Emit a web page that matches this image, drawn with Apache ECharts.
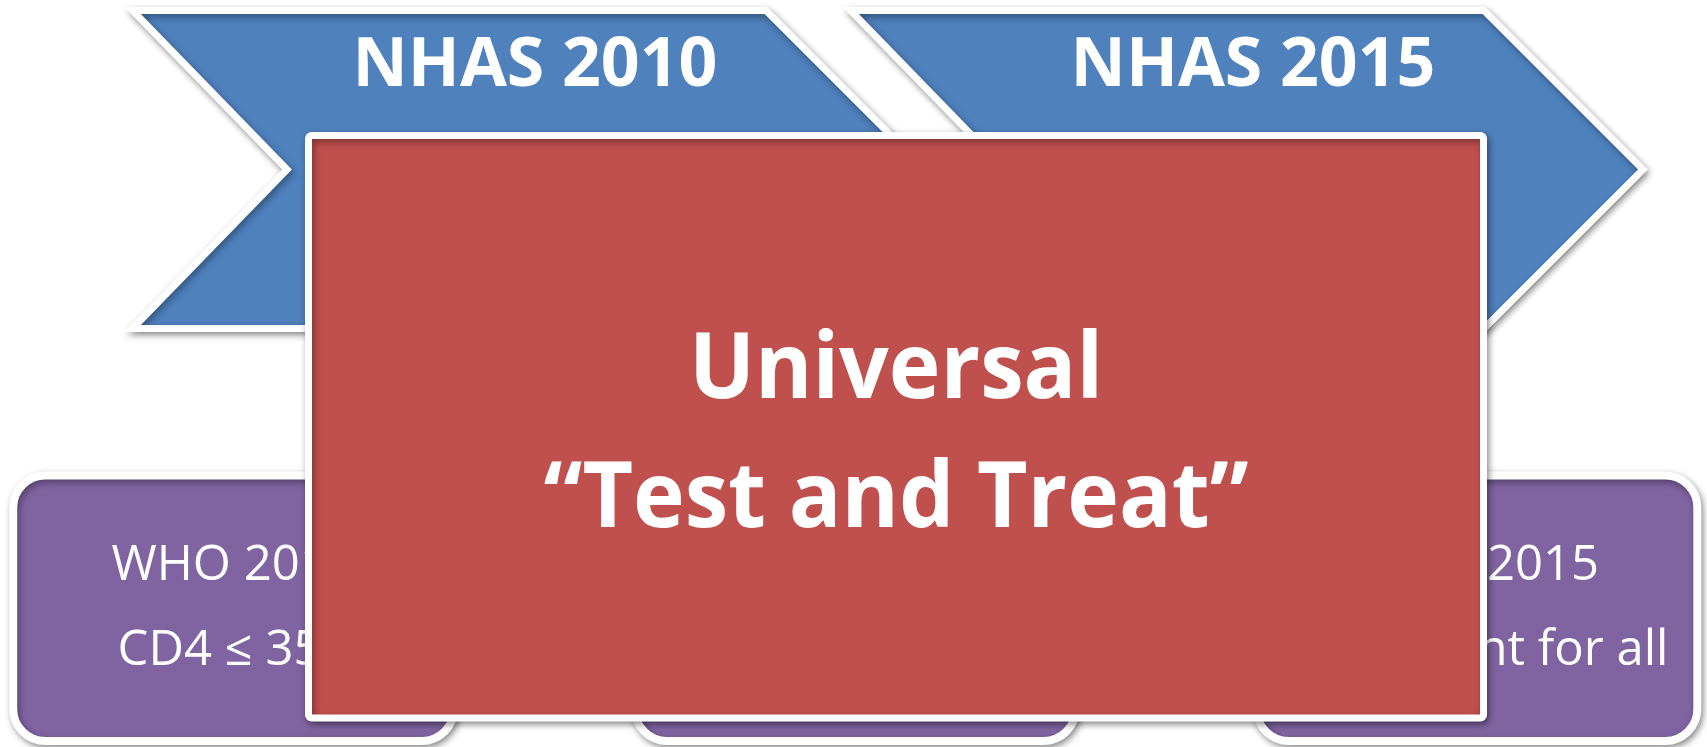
<!DOCTYPE html>
<html><head><meta charset="utf-8">
<script src="https://cdn.jsdelivr.net/npm/echarts@6/dist/echarts.min.js"></script>
<style>html,body{margin:0;padding:0;background:#fff}#main{width:1707px;height:747px}</style>
</head><body><div id="main"></div>
<script>
// Diagram content
const chevronLabels = ['NHAS 2010', 'NHAS 2015'];
const boxTitles = ['WHO 2010', 'WHO 2013', 'WHO 2015'];
const boxCriteria = ['CD4 ≤ 350', 'CD4 ≤ 500', 'Treatment for all'];
const overlayLines = ['Universal', '“Test and Treat”'];

const FONT = '"Open Sans", "Noto Sans", sans-serif';
const SHADOW = { shadowBlur: 7, shadowOffsetX: 2, shadowOffsetY: 3, shadowColor: 'rgba(0,0,0,0.38)' };

const chart = echarts.init(document.getElementById('main'), null, { renderer: 'canvas' });

function chevronItem(params, api) {
  const idx = params.dataIndex;
  const cx = api.coord([api.value(0), 0])[0];
  const top = 10.5, bot = 328.5, mid = 169.5;
  const pts = [[cx - 395.5, top], [cx + 238, top], [cx + 397, mid], [cx + 238, bot], [cx - 395.5, bot], [cx - 241, mid]];
  return {
    type: 'group',
    children: [
      { type: 'polygon', shape: { points: pts },
        style: Object.assign({ fill: '#4F81BD', stroke: '#ffffff', lineWidth: 7, lineJoin: 'miter' }, SHADOW) },
      { type: 'text', z2: 5,
        style: { text: chevronLabels[idx], x: cx + 7, y: 67, align: 'center', verticalAlign: 'middle',
                 fill: '#ffffff', font: 'bold 68px ' + FONT } }
    ]
  };
}

function boxItem(params, api) {
  const idx = params.dataIndex;
  const cx = api.coord([api.value(0), 0])[0];
  const w = 440.7, h = 265.5, top = 475.5;
  return {
    type: 'group',
    children: [
      { type: 'rect', shape: { x: cx - w / 2, y: top, width: w, height: h, r: 32 },
        style: Object.assign({ fill: '#8064A2', stroke: '#ffffff', lineWidth: 8 }, SHADOW) },
      { type: 'text', z2: 5,
        style: { text: boxTitles[idx], x: cx, y: 566, align: 'center', verticalAlign: 'middle',
                 fill: '#ffffff', font: '49px ' + FONT } },
      { type: 'text', z2: 5,
        style: { text: boxCriteria[idx], x: cx, y: 651, align: 'center', verticalAlign: 'middle',
                 fill: '#ffffff', font: '49px ' + FONT } }
    ]
  };
}

function overlayItem(params, api) {
  const cx = api.coord([api.value(0), 0])[0];
  const w = 1175, h = 582.5, top = 135.5;
  const line = (txt, y) => ({
    type: 'text', z2: 5, x: cx, y: y, scaleX: 0.95,
    style: { text: txt, x: 0, y: 0, align: 'center', verticalAlign: 'middle',
             fill: '#ffffff', font: 'bold 92px ' + FONT }
  });
  return {
    type: 'group',
    children: [
      { type: 'rect', shape: { x: cx - w / 2, y: top, width: w, height: h, r: 3 },
        style: Object.assign({ fill: '#C0504D', stroke: '#ffffff', lineWidth: 7 }, SHADOW) },
      line(overlayLines[0], 372),
      line(overlayLines[1], 501)
    ]
  };
}

const hiddenAxis = { type: 'value', show: false, splitLine: { show: false } };

chart.setOption({
  backgroundColor: '#ffffff',
  animation: false,
  grid: { left: 0, right: 0, top: 0, bottom: 0 },
  xAxis: [
    Object.assign({}, hiddenAxis, { min: -0.3757, max: 2.3700 }),   // boxes
    Object.assign({}, hiddenAxis, { min: -0.7354, max: 1.6420 }),   // chevrons
    Object.assign({}, hiddenAxis, { min: -0.5249, max: 0.4751 })    // overlay
  ],
  yAxis: Object.assign({}, hiddenAxis, { min: 0, max: 1 }),
  series: [
    { type: 'custom', xAxisIndex: 1, z: 1, renderItem: chevronItem,
      data: chevronLabels.map((t, i) => [i, 0.5]) },
    { type: 'custom', xAxisIndex: 0, z: 2, renderItem: boxItem,
      data: boxTitles.map((t, i) => [i, 0.5]) },
    { type: 'custom', xAxisIndex: 2, z: 3, renderItem: overlayItem,
      data: overlayLines.slice(0, 1).map((t, i) => [i, 0.5]) }
  ]
});
</script></body></html>
